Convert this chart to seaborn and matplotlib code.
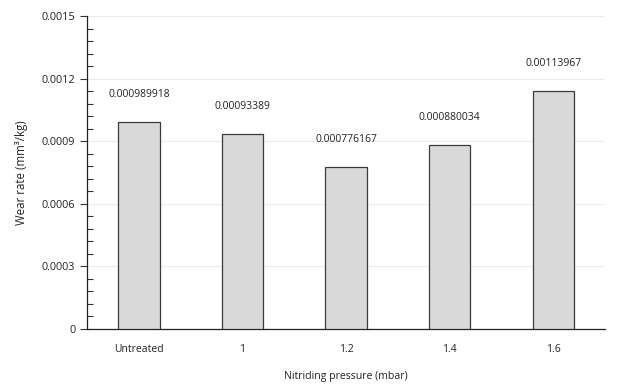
import numpy as np
import pandas as pd
import matplotlib
matplotlib.use("Agg")
import matplotlib.pyplot as plt
from matplotlib.ticker import MultipleLocator, FixedLocator, NullFormatter
import seaborn as sns

# data
pressures = ["Untreated", "1", "1.2", "1.4", "1.6"]
wear_rates = [0.000989918, 0.00093389, 0.000776167, 0.000880034, 0.00113967]
value_labels = ["0.000989918", "0.00093389", "0.000776167", "0.000880034", "0.00113967"]

df = pd.DataFrame({"pressure": pressures, "wear": wear_rates})

sns.set_style("white")
plt.rcParams["font.family"] = ["Open Sans", "DejaVu Sans"]

fig = plt.figure(figsize=(6.37, 3.86), dpi=100)
ax = fig.add_axes([0.1366, 0.1477, 0.8134, 0.8108])

sns.barplot(data=df, x="pressure", y="wear", color="#d9d9d9", edgecolor="#3a3a3a",
            linewidth=0.9, width=0.4, saturation=1, ax=ax, zorder=3)

# value labels above each bar
for i, (v, lab) in enumerate(zip(wear_rates, value_labels)):
    ax.annotate(lab, (i, v), xytext=(0, 16), textcoords="offset points",
                ha="center", va="bottom", fontsize=7.5, color="#222222")

ax.set_xlim(-0.5, len(pressures) - 0.5)
ax.set_ylim(0, 0.0015)
ax.yaxis.set_minor_locator(MultipleLocator(0.00006))
ax.set_yticks([0, 0.0003, 0.0006, 0.0009, 0.0012, 0.0015])
ax.set_yticklabels(["0", "0.0003", "0.0006", "0.0009", "0.0012", "0.0015"])
ax.grid(axis="y", which="major", color="#ececec", linewidth=0.8, zorder=0)

# x ticks between categories, labels at category centres
ax.xaxis.set_major_locator(FixedLocator(np.arange(-0.5, len(pressures), 1.0)))
ax.xaxis.set_major_formatter(NullFormatter())
ax.xaxis.set_minor_locator(FixedLocator(np.arange(len(pressures))))
ax.set_xticklabels(pressures, minor=True)
ax.tick_params(axis="x", which="major", direction="inout", length=8, width=0.8, color="#333333")
ax.tick_params(axis="x", which="minor", length=0, pad=11, labelsize=7.5, labelcolor="#222222")
ax.tick_params(axis="y", which="major", direction="out", length=5, width=0.8,
               color="#333333", labelsize=7.8, labelcolor="#222222", left=True)
ax.tick_params(axis="y", which="minor", direction="in", length=4, width=0.8,
               color="#333333", left=True)

for s in ["top", "right"]:
    ax.spines[s].set_visible(False)
for s in ["left", "bottom"]:
    ax.spines[s].set_color("#222222")
    ax.spines[s].set_linewidth(0.9)

ax.set_xlabel("Nitriding pressure (mbar)", fontsize=7.6, color="#222222", labelpad=11)
ax.set_ylabel("Wear rate (mm³/kg)", fontsize=8.3, color="#222222", labelpad=10)

fig.savefig("out.png", dpi=100)
